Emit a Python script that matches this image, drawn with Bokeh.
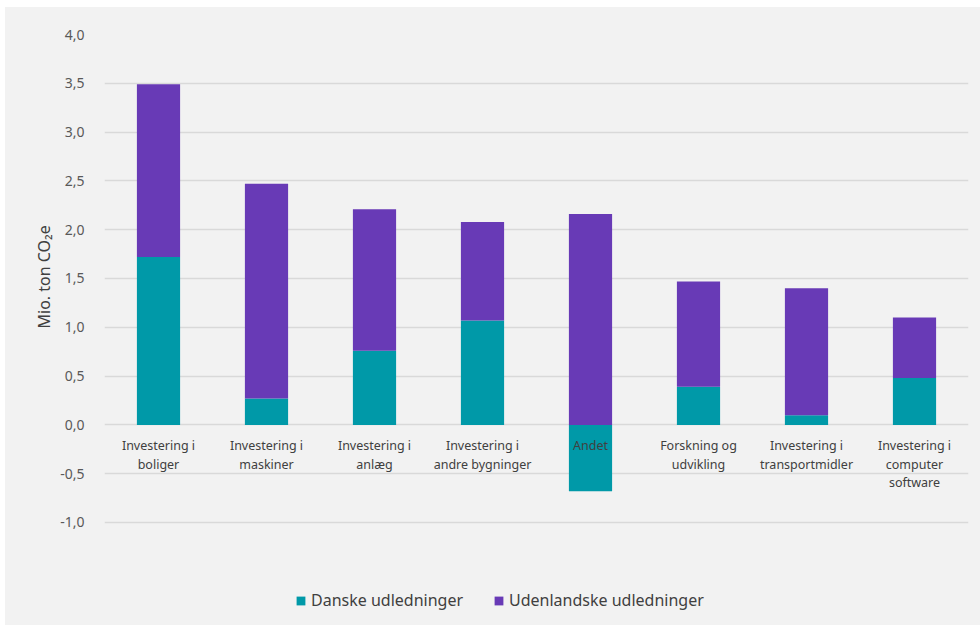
from bokeh.plotting import figure
from bokeh.models import (FactorRange, Range1d, FixedTicker, CustomJSTickFormatter,
                          Legend, LegendItem, ColumnDataSource, Title)
from bokeh.core.properties import value
from bokeh.embed import file_html
from bokeh.resources import INLINE

categories = ["Investering i boliger", "Investering i maskiner", "Investering i anlæg",
              "Investering i andre bygninger", "Andet", "Forskning og udvikling",
              "Investering i transportmidler", "Investering i computer software"]
labels = ["Investering i\nboliger", "Investering i\nmaskiner", "Investering i\nanlæg",
          "Investering i\nandre bygninger", "Andet", "Forskning og\nudvikling",
          "Investering i\ntransportmidler", "Investering i\ncomputer\nsoftware"]
danske = [1.72, 0.27, 0.76, 1.07, -0.68, 0.39, 0.10, 0.48]
udenlandske = [1.77, 2.20, 1.45, 1.01, 2.16, 1.08, 1.30, 0.62]
y_ticks = [-1.0, -0.5, 0.0, 0.5, 1.0, 1.5, 2.0, 2.5, 3.0, 3.5, 4.0]
series_names = ["Danske udledninger", "Udenlandske udledninger"]
y_label = "Mio. ton CO₂e"

TEAL = "#0099a8"
PURPLE = "#683ab6"
BG = "#f2f2f2"
FONT = "Noto Sans"

# the frame is extended below the last gridline so the legend can sit inside it
p = figure(x_range=FactorRange(factors=categories, range_padding=0),
           y_range=Range1d(-1.953, 4.0),
           width=975, height=630, output_backend="svg", toolbar_location=None,
           min_border_left=99, min_border_right=12, min_border_top=27, min_border_bottom=22)
p.margin = (7, 0, 0, 5)
p.styles = {"background-color": BG}
p.background_fill_alpha = 0
p.border_fill_alpha = 0
p.outline_line_color = None

pos_bottom = [max(d, 0) for d in danske]
src = ColumnDataSource(dict(cat=categories, dan=danske,
                            ub=pos_bottom,
                            ut=[b + u for b, u in zip(pos_bottom, udenlandske)],
                            zero=[0] * len(categories), lab=labels))

r1 = p.vbar(x="cat", top="dan", bottom="zero", width=0.4, source=src,
            fill_color=TEAL, line_color=None)
r2 = p.vbar(x="cat", top="ut", bottom="ub", width=0.4, source=src,
            fill_color=PURPLE, line_color=None)

p.text(x="cat", y="zero", text="lab", source=src, text_align="center",
       text_baseline="top", y_offset=12, text_font=value(FONT),
       text_font_size="12.5px", text_color="#404040", text_line_height=1.1)

p.xaxis.visible = False
p.xgrid.grid_line_color = None
p.ygrid.grid_line_color = "#d9d9d9"
p.ygrid.grid_line_width = 1.5
p.yaxis.ticker = FixedTicker(ticks=y_ticks)
p.ygrid.ticker = FixedTicker(ticks=y_ticks)
p.yaxis.formatter = CustomJSTickFormatter(code="return tick.toFixed(1).replace('.', ',');")
p.yaxis.axis_line_color = None
p.yaxis.major_tick_line_color = None
p.yaxis.minor_tick_line_color = None
p.yaxis.major_label_text_font = FONT
p.yaxis.major_label_text_font_size = "14px"
p.yaxis.major_label_text_color = "#595959"
p.yaxis.major_label_standoff = 14

p.add_layout(Title(text=y_label, align="left", offset=287, standoff=6,
                   text_font=FONT, text_font_style="normal", text_font_size="16px",
                   text_color="#404040"), "left")

legend = Legend(items=[LegendItem(label=series_names[0], renderers=[r1]),
                       LegendItem(label=series_names[1], renderers=[r2])],
                location=(191, 4), orientation="horizontal",
                background_fill_alpha=0, border_line_color=None,
                padding=0, margin=0, spacing=30, label_standoff=5,
                glyph_width=11, glyph_height=11,
                label_text_font=FONT, label_text_font_size="16px",
                label_text_color="#404040")
p.add_layout(legend)

open("out.html", "w").write(file_html(p, INLINE))
